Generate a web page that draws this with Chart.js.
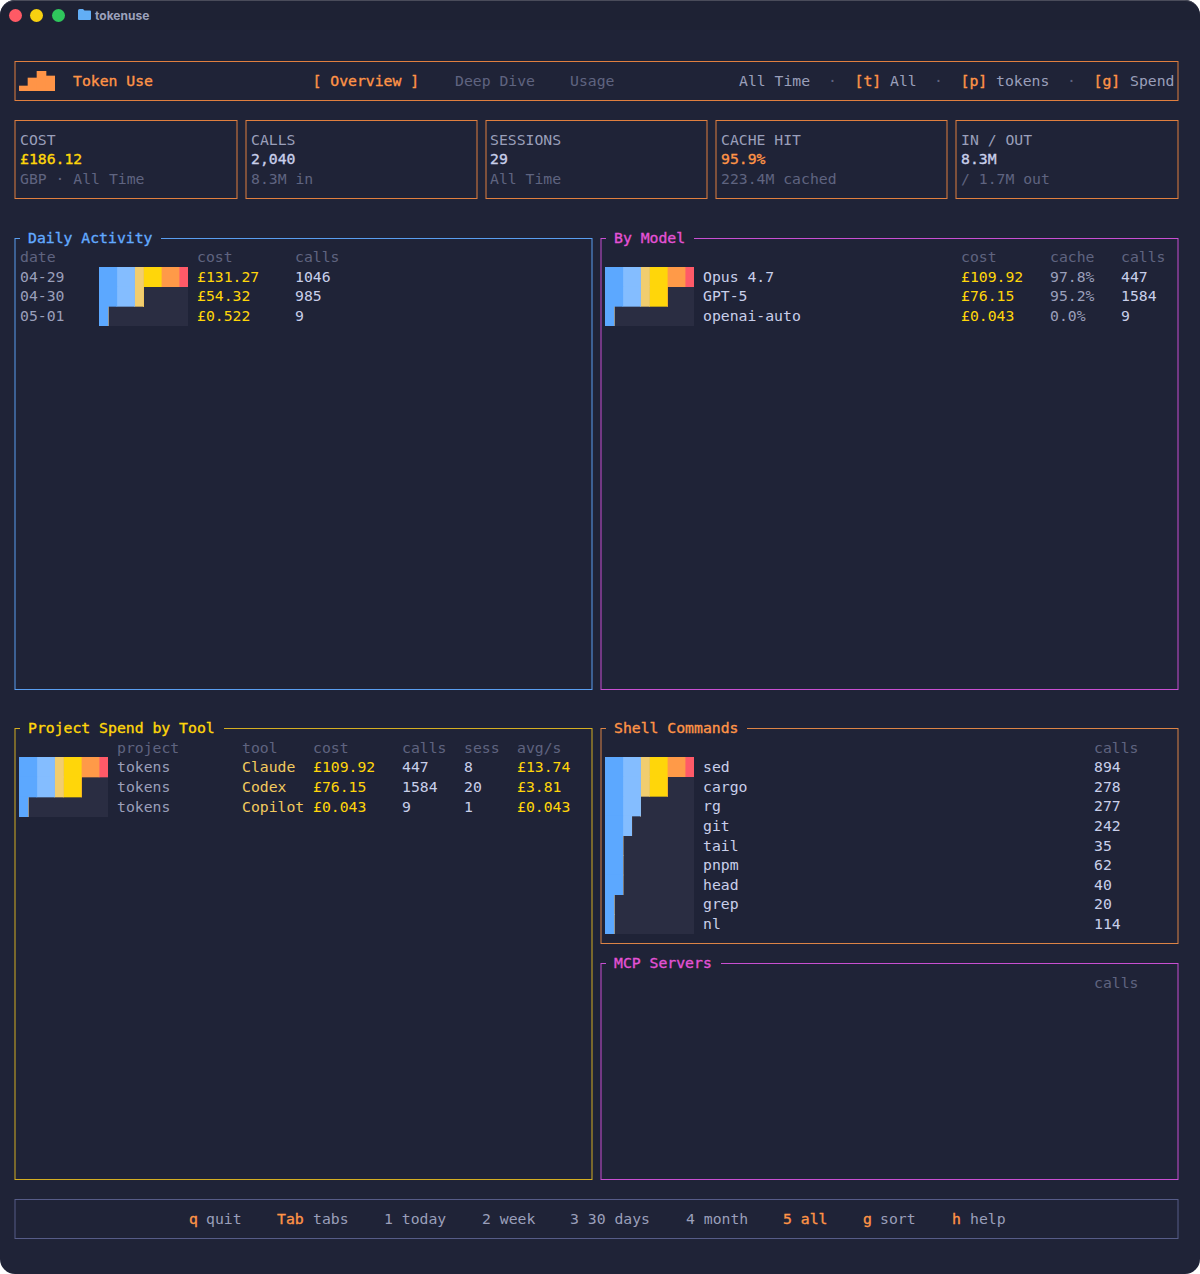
<!doctype html>
<html lang="en">
<head>
  <meta charset="utf-8">
  <title>tokenuse</title>
  <script src="https://cdn.jsdelivr.net/npm/chart.js"></script>
  <style>
    html, body { margin: 0; background: #fff; }
    #win { position: relative; width: 1200px; height: 1274px; overflow: hidden; background: #1f2337; border-radius: 15px; font: 14.77px/20px "DejaVu Sans Mono", monospace; }
    #titlebar { position: absolute; left: 0; top: 0; width: 1200px; height: 30px; background: #1e2234; border-top: 1px solid #4a4c5a; box-sizing: border-box; border-radius: 15px 15px 0 0; }
    .dot { position: absolute; top: 9px; width: 13px; height: 13px; border-radius: 50%; }
    .t { position: absolute; white-space: pre; height: 20px; }
    .b { -webkit-text-stroke: 0.35px currentColor; }
    .box { position: absolute; box-sizing: border-box; border: 1px solid; transform: translateX(-0.5px); }
    canvas { position: absolute; }
    .track { background: #2a2d42; }
  </style>
</head>
<body>
  <div id="win">
    <div id="titlebar"></div>
    <div class="dot" style="left:9px;background:#ff5a65"></div>
    <div class="dot" style="left:30px;background:#f7d110"></div>
    <div class="dot" style="left:52px;background:#2fc75c"></div>
    <svg style="position:absolute;left:77px;top:8px" width="15" height="13" viewBox="0 0 15 13">
      <path d="M1 2.5 Q1 1 2.5 1 H6 L7.5 2.5 H13 Q14 2.5 14 3.5 V11 Q14 12 13 12 H2 Q1 12 1 11 Z" fill="#62aef5"/>
    </svg>
    <div class="t" style="left:95px;top:6px;font:bold 12px/20px 'Inter',sans-serif;color:#9ca1bb">tokenuse</div>
  </div>

  <script type="text/javascript">
    // bar fill per row, in terminal cells out of 10
    const daily_cells = [10, 5, 1];
    const model_cells = [10, 7, 1];
    const project_cells = [10, 7, 1];
    const shell_cells = [10, 7, 4, 3, 2, 2, 2, 1, 1];

    const band_cells = [2, 2, 1, 2, 2, 1];
    const band_colors = ['#5ca8ff', '#84bdff', '#f1cd6f', '#ffd60a', '#ff9a48', '#ff5a68'];

    const logo_heights = [5, 13, 20, 15];

    const daily_dates = ['04-29', '04-30', '05-01'];
    const daily_cost = ['£131.27', '£54.32', '£0.522'];
    const daily_calls = ['1046', '985', '9'];

    const model_names = ['Opus 4.7', 'GPT-5', 'openai-auto'];
    const model_cost = ['£109.92', '£76.15', '£0.043'];
    const model_cache = ['97.8%', '95.2%', '0.0%'];
    const model_calls = ['447', '1584', '9'];

    const project_names = ['tokens', 'tokens', 'tokens'];
    const project_tools = ['Claude', 'Codex', 'Copilot'];
    const project_cost = ['£109.92', '£76.15', '£0.043'];
    const project_calls = ['447', '1584', '9'];
    const project_sess = ['8', '20', '1'];
    const project_avg = ['£13.74', '£3.81', '£0.043'];

    const shell_names = ['sed', 'cargo', 'rg', 'git', 'tail', 'pnpm', 'head', 'grep', 'nl'];
    const shell_calls = ['894', '278', '277', '242', '35', '62', '40', '20', '114'];

    const win = document.getElementById('win');

    const col_label = '#9a9fba', col_dim = '#5f6480', col_text = '#c9cfea', col_yellow = '#ffd60a', col_orange = '#ff9447';

    function put(x, y, text, color, bold) {
      const el = document.createElement('div');
      el.className = bold ? 't b' : 't';
      el.style.left = x + 'px';
      el.style.top = (y - 10) + 'px';
      el.style.color = color;
      el.textContent = text;
      win.appendChild(el);
      return el;
    }

    function box(x0, y0, x1, y1, color) {
      const el = document.createElement('div');
      el.className = 'box';
      el.style.cssText = `left:${x0}px;top:${y0}px;width:${x1 - x0 + 1}px;height:${y1 - y0 + 1}px;border-color:${color}`;
      win.appendChild(el);
    }

    function panel(x0, y0, x1, y1, line, color, title) {
      box(x0, y0, x1, y1, line);
      const cap = put(x0 + 5, y0, ' ', color, true);
      cap.style.padding = '0 9px 0 8px';
      cap.style.background = '#1f2337';
      cap.textContent = title;
    }

    function column(x, y, values, color, bold) {
      values.forEach((v, i) => put(x, y + i * 19.6, v, color, bold));
    }

    function bar_chart(x, y, w, h, cells) {
      const canvas = document.createElement('canvas');
      canvas.className = 'track';
      canvas.style.left = x + 'px';
      canvas.style.top = y + 'px';
      canvas.width = w;
      canvas.height = h;
      win.appendChild(canvas);

      let start = 0;
      const datasets = band_cells.map((size, b) => {
        const from = start;
        start += size;
        return {
          data: cells.map((c) => Math.max(0, Math.min(c, from + size) - from)),
          backgroundColor: band_colors[b],
          borderWidth: 0,
          barPercentage: 1,
          categoryPercentage: 1
        };
      });

      new Chart(canvas, {
        type: 'bar',
        data: { labels: cells.map((c, i) => i), datasets },
        options: {
          indexAxis: 'y', responsive: false, animation: false, devicePixelRatio: 1,
          layout: { padding: 0 },
          plugins: { legend: { display: false }, tooltip: { enabled: false } },
          scales: {
            x: { display: false, stacked: true, min: 0, max: 10 },
            y: { display: false, stacked: true }
          }
        }
      });
    }

    function logo_chart(x, y, w, h) {
      const canvas = document.createElement('canvas');
      canvas.style.left = x + 'px';
      canvas.style.top = y + 'px';
      canvas.width = w;
      canvas.height = h;
      win.appendChild(canvas);
      new Chart(canvas, {
        type: 'bar',
        data: { labels: logo_heights.map((v, i) => i), datasets: [{ data: logo_heights, backgroundColor: col_orange, borderWidth: 0, barPercentage: 1, categoryPercentage: 1 }] },
        options: {
          responsive: false, animation: false, devicePixelRatio: 1,
          plugins: { legend: { display: false }, tooltip: { enabled: false } },
          scales: { x: { display: false }, y: { display: false, min: 0, max: 20 } }
        }
      });
    }

    document.addEventListener('DOMContentLoaded', () => {
      // header
      box(15, 61, 1178, 100, '#e07f3f');
      logo_chart(19, 71, 36, 20);
      put(73, 81, 'Token Use', col_orange, true);
      put(312.5, 81, '[ Overview ]', col_orange, true);
      put(455, 81, 'Deep Dive', col_dim);
      put(570, 81, 'Usage', col_dim);
      put(739, 81, 'All Time', col_label);
      put(828, 81, '·', col_dim);
      put(854.5, 81, '[t]', col_orange, true);
      put(890, 81, 'All', col_label);
      put(934, 81, '·', col_dim);
      put(960.5, 81, '[p]', col_orange, true);
      put(996, 81, 'tokens', col_label);
      put(1067, 81, '·', col_dim);
      put(1093.5, 81, '[g]', col_orange, true);
      put(1130, 81, 'Spend', col_label);

      // stat cards
      box(15, 120, 237, 198, '#e07f3f');
      put(20, 140, 'COST', col_label);
      put(20, 159, '£186.12', col_yellow, true);
      put(20, 179, 'GBP · All Time', col_dim);

      box(246, 120, 477, 198, '#e07f3f');
      put(251, 140, 'CALLS', col_label);
      put(251, 159, '2,040', col_text, true);
      put(251, 179, '8.3M in', col_dim);

      box(486, 120, 707, 198, '#e07f3f');
      put(490, 140, 'SESSIONS', col_label);
      put(490, 159, '29', col_text, true);
      put(490, 179, 'All Time', col_dim);

      box(716, 120, 947, 198, '#e07f3f');
      put(721, 140, 'CACHE HIT', col_label);
      put(721, 159, '95.9%', col_orange, true);
      put(721, 179, '223.4M cached', col_dim);

      box(956, 120, 1178, 198, '#e07f3f');
      put(961, 140, 'IN / OUT', col_label);
      put(961, 159, '8.3M', col_text, true);
      put(961, 179, '/ 1.7M out', col_dim);

      // daily activity
      panel(15, 238, 592, 689, '#5a9ef0', '#62aaff', 'Daily Activity');
      put(20, 257, 'date', col_dim);
      put(197, 257, 'cost', col_dim);
      put(295, 257, 'calls', col_dim);
      column(20, 276.8, daily_dates, col_label);
      column(197, 276.8, daily_cost, col_yellow);
      column(295, 276.8, daily_calls, col_text);
      bar_chart(99, 267, 89, 59, daily_cells);

      // by model
      panel(601, 238, 1178, 689, '#c84fd2', '#e452d6', 'By Model');
      put(961, 257, 'cost', col_dim);
      put(1050, 257, 'cache', col_dim);
      put(1121, 257, 'calls', col_dim);
      column(703, 276.8, model_names, col_text);
      column(961, 276.8, model_cost, col_yellow);
      column(1050, 276.8, model_cache, col_label);
      column(1121, 276.8, model_calls, col_text);
      bar_chart(605, 267, 89, 59, model_cells);

      // project spend
      panel(15, 728, 592, 1179, '#d4ae22', '#ffd60a', 'Project Spend by Tool');
      put(117, 748, 'project', col_dim);
      put(242, 748, 'tool', col_dim);
      put(313, 748, 'cost', col_dim);
      put(402, 748, 'calls', col_dim);
      put(464, 748, 'sess', col_dim);
      put(517, 748, 'avg/s', col_dim);
      column(117, 767.4, project_names, col_label);
      column(242, 767.4, project_tools, '#f2ca5e');
      column(313, 767.4, project_cost, col_yellow);
      column(402, 767.4, project_calls, col_text);
      column(464, 767.4, project_sess, col_text);
      column(517, 767.4, project_avg, col_yellow);
      bar_chart(19, 757, 89, 60, project_cells);

      // shell commands
      panel(601, 728, 1178, 943, '#dc8446', '#ff9447', 'Shell Commands');
      put(1094, 748, 'calls', col_dim);
      column(703, 767.2, shell_names, col_text);
      column(1094, 767.2, shell_calls, col_text);
      bar_chart(605, 757, 89, 177, shell_cells);

      // mcp servers
      panel(601, 963, 1178, 1179, '#c84fd2', '#e452d6', 'MCP Servers');
      put(1094, 983, 'calls', col_dim);

      // footer
      box(15, 1199, 1178, 1238, '#565c88');
      put(189, 1219, 'q', col_orange, true);
      put(206, 1219, 'quit', col_label);
      put(277, 1219, 'Tab', col_orange, true);
      put(313, 1219, 'tabs', col_label);
      put(384, 1219, '1 today', col_label);
      put(482, 1219, '2 week', col_label);
      put(570, 1219, '3 30 days', col_label);
      put(686, 1219, '4 month', col_label);
      put(783, 1219, '5 all', col_orange, true);
      put(863, 1219, 'g', col_orange, true);
      put(880, 1219, 'sort', col_label);
      put(952, 1219, 'h', col_orange, true);
      put(970, 1219, 'help', col_label);
    });
  </script>
</body>
</html>
